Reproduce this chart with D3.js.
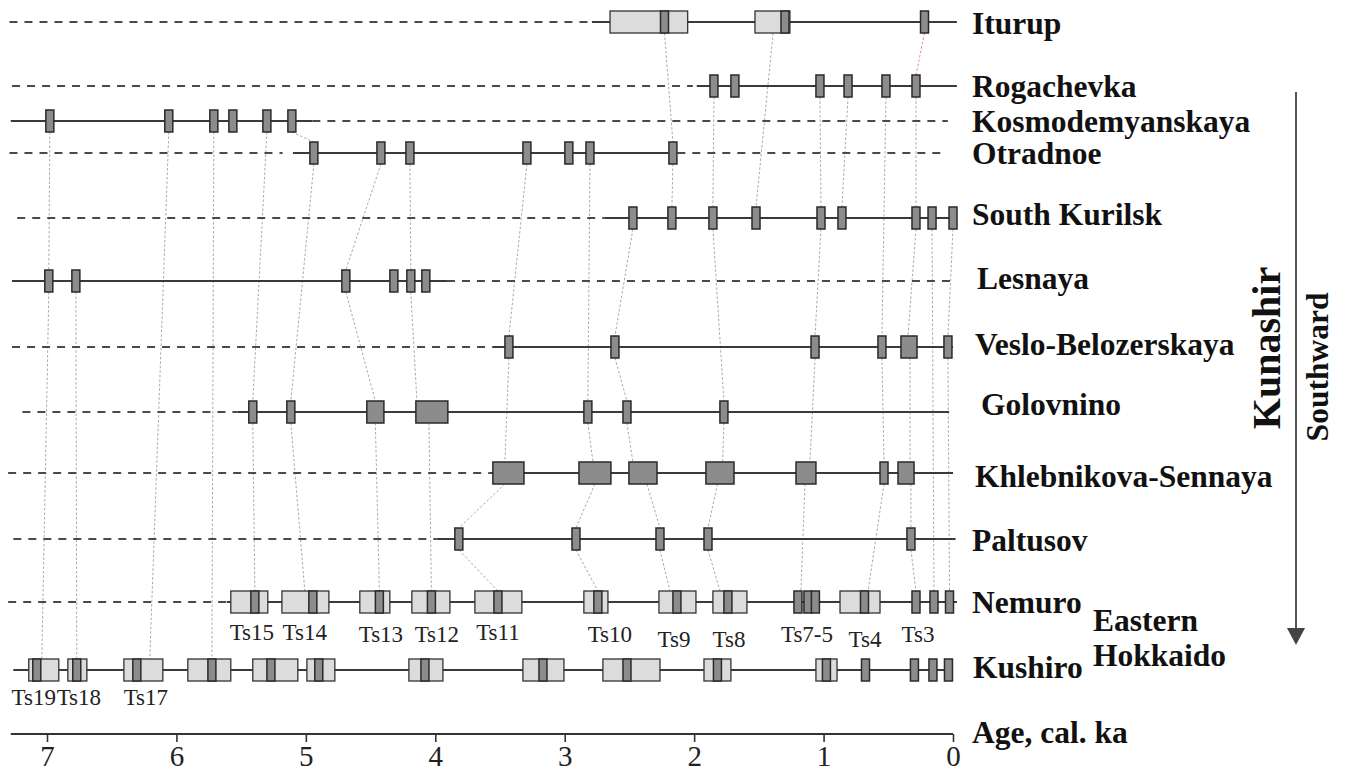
<!DOCTYPE html>
<html>
<head>
<meta charset="utf-8">
<script src="https://cdn.jsdelivr.net/npm/d3@7/dist/d3.min.js"></script>
<style>
  html, body { margin: 0; padding: 0; background: #fff; }
  svg { display: block; }
</style>
</head>
<body>
<svg id="chart" width="1345" height="774"></svg>
<script>
// ---------------- DATA (ages in cal. ka) ----------------
const sites = ["Iturup","Rogachevka","Kosmodemyanskaya","Otradnoe","South Kurilsk","Lesnaya",
  "Veslo-Belozerskaya","Golovnino","Khlebnikova-Sennaya","Paltusov","Nemuro","Kushiro"];

const ageTicks = [7, 6, 5, 4, 3, 2, 1, 0];

// solid (recorded) and dashed (not recorded) spans of each section
const solidSpans = [[2.79,-0.03],[1.98,-0.03],[7.28,4.95],[5.10,2.13],[2.69,0],[7.27,3.91],
  [3.56,0],[5.53,0.03],[3.58,0],[3.99,-0.02],[5.61,-0.03],[7.26,0]];
const dashedSpans = [[[7.29,2.79]],[[7.27,2.01]],[[4.95,0.04]],[[7.29,5.18],[2.13,0.06]],[[7.23,2.69]],
  [[3.91,-0.02]],[[7.27,3.56]],[[7.19,5.53]],[[7.30,3.58]],[[7.26,3.99]],[[7.30,5.61]],[]];

// tsunami deposit ages (dark bars)
const iturupEvents = [2.229, 1.298, 0.22];
const rogachevkaEvents = [1.847, 1.685, 1.028, 0.811, 0.518, 0.286];
const kosmodemyanskayaEvents = [6.978, 6.059, 5.711, 5.564, 5.301, 5.108];
const otradnoeEvents = [4.938, 4.420, 4.196, 3.292, 2.968, 2.805, 2.164];
const southKurilskEvents = [2.473, 2.172, 1.855, 1.522, 1.020, 0.858, 0.286, 0.162, 0.0];
const lesnayaEvents = [6.986, 6.777, 4.691, 4.320, 4.189, 4.073];
const vesloEvents = [3.431, 2.612, 1.066, 0.549, 0.039];
const golovninoEvents = [5.410, 5.116, 2.821, 2.519, 1.770];
const khlebnikovaEvents = [0.533];
const paltusovEvents = [3.818, 2.913, 2.264, 1.893, 0.325];
const nemuroEvents = [5.394, 4.946, 4.432, 4.030, 3.516, 2.744, 2.133, 1.739, 1.198, 1.121, 1.063, 0.684, 0.286, 0.147, 0.027];
const kushiroEvents = [7.079, 6.770, 6.306, 5.726, 5.270, 4.900, 4.080, 3.168, 2.519, 1.820, 0.978, 0.676, 0.298, 0.155, 0.035];

// dark age intervals (wide blocks)
const vesloBlocks = [[0.402, 0.278]];
const golovninoBlocks = [[4.529, 4.397], [4.150, 3.903]];
const khlebnikovaBlocks = [[3.555,3.315],[2.890,2.643],[2.504,2.287],[1.909,1.692],[1.213,1.059],[0.425,0.301]];

// calibrated age ranges (light boxes)
const iturupRanges = [[2.65, 2.05], [1.53, 1.26]];
const nemuroRanges = [[5.580,5.294],[5.185,4.822],[4.583,4.351],[4.181,3.887],[3.694,3.331],
  [2.852,2.666],[2.272,1.986],[1.855,1.592],[0.873,0.564]];
const kushiroRanges = [[7.141,6.909],[6.839,6.692],[6.406,6.105],[5.912,5.580],[5.410,5.062],[4.992,4.776],
  [4.204,3.941],[3.323,3.006],[2.705,2.264],[1.924,1.716],[1.059,0.896]];

// tephra / tsunami labels: [site index, text, age]
const tsLabels = [[10,"Ts15",5.417],[10,"Ts14",5.008],[10,"Ts13",4.420],[10,"Ts12",3.988],[10,"Ts11",3.516],
  [10,"Ts10",2.651],[10,"Ts9",2.156],[10,"Ts8",1.731],[10,"Ts7-5",1.128],[10,"Ts4",0.680],[10,"Ts3",0.270],
  [11,"Ts19",7.102],[11,"Ts18",6.754],[11,"Ts17",6.236]];

// correlation chains: [site index, age at top, age at bottom(optional)]
const correlations = [
  [[2,6.978],[5,6.986],[11,7.04]],
  [[5,6.777],[11,6.77]],
  [[2,6.059],[11,6.206]],
  [[2,5.711],[11,5.726]],
  [[2,5.301],[7,5.410],[10,5.394]],
  [[2,5.108],[3,4.938],[7,5.116],[10,5.008]],
  [[3,4.420],[5,4.691],[7,4.463],[10,4.432]],
  [[3,4.196],[5,4.189],[7,4.142,4.049],[10,4.030]],
  [[3,3.292],[6,3.431],[8,3.462],[9,3.818],[10,3.516]],
  [[3,2.805],[7,2.821],[8,2.782,2.767],[9,2.913],[10,2.744]],
  [[0,2.229],[3,2.164],[4,2.172]],
  [[4,2.473],[6,2.612],[7,2.519],[8,2.473,2.365],[9,2.264],[10,2.187]],
  [[1,1.847],[4,1.855],[7,1.770],[8,1.78,1.82],[9,1.893],[10,1.80]],
  [[0,1.39],[4,1.522]],
  [[1,1.028],[4,1.020],[6,1.066],[8,1.105,1.144],[10,1.175]],
  [[1,0.811],[4,0.858]],
  [[1,0.518],[6,0.549],[8,0.533],[10,0.657]],
  [[1,0.286],[4,0.286],[6,0.348,0.332],[8,0.332,0.325],[9,0.325],[10,0.286]],
  [[4,0.162],[10,0.147]],
  [[4,0.0],[6,0.039],[10,0.027]]
];
const redCorrelations = [[[0,0.22],[1,0.286]]];

// ---------------- LAYOUT ----------------
const svg = d3.select("#chart");
const serif = "'Liberation Serif','Times New Roman',Times,serif";
const x = d3.scaleLinear().domain([7, 0]).range([47, 953]);
const rowY = d3.scaleOrdinal().domain(d3.range(sites.length))
  .range([22, 86, 121, 153, 218, 281, 347, 412, 473, 539, 602, 670]);
const H = 22, BAR = 8;

const eventsBySite = [iturupEvents, rogachevkaEvents, kosmodemyanskayaEvents, otradnoeEvents, southKurilskEvents,
  lesnayaEvents, vesloEvents, golovninoEvents, khlebnikovaEvents, paltusovEvents, nemuroEvents, kushiroEvents];
const blocksBySite = {6: vesloBlocks, 7: golovninoBlocks, 8: khlebnikovaBlocks};
const rangesBySite = {0: iturupRanges, 10: nemuroRanges, 11: kushiroRanges};

// correlation lines
function drawChains(chains, color) {
  const segs = [];
  chains.forEach(ch => {
    for (let i = 0; i < ch.length - 1; i++) {
      const a = ch[i], b = ch[i + 1];
      const ab = a.length > 2 ? a[2] : a[1];
      segs.push({x1: x(ab), y1: rowY(a[0]) + H / 2, x2: x(b[1]), y2: rowY(b[0]) - H / 2});
    }
  });
  svg.append("g").selectAll("line").data(segs).join("line")
    .attr("x1", d => d.x1).attr("y1", d => d.y1).attr("x2", d => d.x2).attr("y2", d => d.y2)
    .attr("stroke", color).attr("stroke-width", 1).attr("stroke-dasharray", "2.5,2");
}
drawChains(correlations, "#a9a9a9");
drawChains(redCorrelations, "#e58a8a");

// section lines
const gLines = svg.append("g");
solidSpans.forEach((s, i) => {
  gLines.append("line").attr("x1", x(s[0])).attr("x2", x(s[1]))
    .attr("y1", rowY(i)).attr("y2", rowY(i))
    .attr("stroke", "#3a3a3a").attr("stroke-width", 1.8);
});
dashedSpans.forEach((arr, i) => {
  arr.forEach(s => {
    gLines.append("line").attr("x1", x(s[0])).attr("x2", x(s[1]))
      .attr("y1", rowY(i)).attr("y2", rowY(i))
      .attr("stroke", "#4a4a4a").attr("stroke-width", 2).attr("stroke-dasharray", "8,7");
  });
});

// light ranges
const gMarks = svg.append("g");
Object.keys(rangesBySite).forEach(k => {
  const i = +k;
  gMarks.selectAll(null).data(rangesBySite[k]).join("rect")
    .attr("x", d => x(d[0])).attr("width", d => x(d[1]) - x(d[0]))
    .attr("y", rowY(i) - H / 2).attr("height", H)
    .attr("fill", "#dcdcdc").attr("stroke", "#333").attr("stroke-width", 1.3);
});
// dark blocks
Object.keys(blocksBySite).forEach(k => {
  const i = +k;
  gMarks.selectAll(null).data(blocksBySite[k]).join("rect")
    .attr("x", d => x(d[0])).attr("width", d => x(d[1]) - x(d[0]))
    .attr("y", rowY(i) - H / 2).attr("height", H)
    .attr("fill", "#8c8c8c").attr("stroke", "#2a2a2a").attr("stroke-width", 1.5);
});
// dark bars
eventsBySite.forEach((ev, i) => {
  gMarks.selectAll(null).data(ev).join("rect")
    .attr("x", d => x(d) - BAR / 2).attr("width", BAR)
    .attr("y", rowY(i) - H / 2).attr("height", H)
    .attr("fill", "#8c8c8c").attr("stroke", "#2a2a2a").attr("stroke-width", 1.5);
});

// Ts labels
svg.append("g").selectAll("text").data(tsLabels).join("text")
  .attr("x", d => x(d[2]))
  .attr("y", d => rowY(d[0]) + (d[0] === 10 ? (["Ts9","Ts8","Ts4"].includes(d[1]) ? 45 : (["Ts15","Ts14","Ts11"].includes(d[1]) ? 38 : 40)) : 35))
  .attr("text-anchor", "middle")
  .attr("font-family", serif).attr("font-size", 23).attr("fill", "#222")
  .text(d => d[1]);

// site labels
const labelX = [972, 972, 972, 972, 972, 977, 975, 981, 975, 972, 972, 973];
const labelBase = [34, 97, 132, 164, 225, 289, 355, 415, 487, 551, 613, 678];
const labelSize = 31.5;
svg.append("g").selectAll("text").data(sites).join("text")
  .attr("x", (d, i) => labelX[i]).attr("y", (d, i) => labelBase[i])
  .attr("font-family", serif).attr("font-weight", "bold").attr("font-size", labelSize).attr("fill", "#111")
  .text(d => d);

svg.append("text").attr("x", 1093).attr("y", 631)
  .attr("font-family", serif).attr("font-weight", "bold").attr("font-size", labelSize).attr("fill", "#111")
  .text("Eastern");
svg.append("text").attr("x", 1093).attr("y", 666)
  .attr("font-family", serif).attr("font-weight", "bold").attr("font-size", labelSize).attr("fill", "#111")
  .text("Hokkaido");
svg.append("text").attr("x", 972).attr("y", 743)
  .attr("font-family", serif).attr("font-weight", "bold").attr("font-size", labelSize).attr("fill", "#111")
  .text("Age, cal. ka");

// Kunashir / Southward
svg.append("text").attr("transform", "translate(1280,348) rotate(-90)")
  .attr("text-anchor", "middle")
  .attr("font-family", serif).attr("font-weight", "bold").attr("font-size", 40).attr("fill", "#111")
  .text("Kunashir");
svg.append("text").attr("transform", "translate(1328,367) rotate(-90)")
  .attr("text-anchor", "middle")
  .attr("font-family", serif).attr("font-weight", "bold").attr("font-size", 31.5).attr("fill", "#111")
  .text("Southward");
svg.append("line").attr("x1", 1296).attr("x2", 1296).attr("y1", 92).attr("y2", 632)
  .attr("stroke", "#555").attr("stroke-width", 2);
svg.append("path").attr("d", "M1287,628 L1305,628 L1296,645 Z").attr("fill", "#444");

// axis
const gAxis = svg.append("g").attr("transform", "translate(0,734)");
gAxis.call(d3.axisBottom(x).tickValues(ageTicks).tickFormat(d3.format("d")).tickSize(8).tickPadding(3).tickSizeOuter(0));
gAxis.select(".domain").remove();
gAxis.selectAll(".tick line").attr("stroke", "#333").attr("stroke-width", 1.6);
gAxis.selectAll(".tick text").attr("font-family", serif).attr("font-size", 29).attr("fill", "#222");
gAxis.append("line").attr("x1", x(7.28)).attr("x2", x(0)).attr("y1", 0).attr("y2", 0)
  .attr("stroke", "#333").attr("stroke-width", 1.8);
</script>
</body>
</html>
